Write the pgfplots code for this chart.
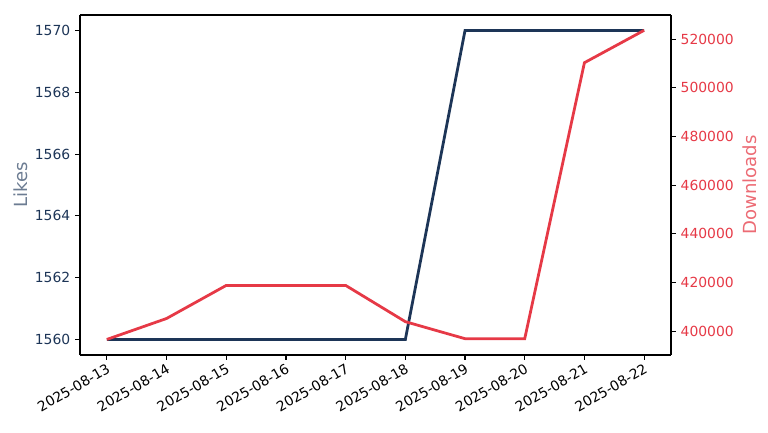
\documentclass[border=0pt]{standalone}
\usepackage{pgfplots}
\pgfplotsset{compat=1.18}
\usepackage{fontspec}
\setmainfont{DejaVu Sans}
\definecolor{navy}{HTML}{1D3557}
\definecolor{redc}{HTML}{E63946}
\pgfplotstableread{
x likes downloads
0 1560 396600
1 1560 405200
2 1560 418800
3 1560 418800
4 1560 418800
5 1560 403900
6 1570 396900
7 1570 396900
8 1570 510300
9 1570 523600
}\data
\begin{document}
\begin{tikzpicture}
\pgfplotsset{
  base/.style={
    scale only axis, width=425.5pt, height=244.8pt,
    at={(0,0)}, anchor=south west,
    xmin=-0.45, xmax=9.45,
    tick align=outside, major tick length=3.5pt,
    every tick/.style={black, line width=0.8pt},
    axis line style={line width=0.8pt},
    /pgf/number format/assume math mode=true,
    /pgf/number format/1000 sep={},
    tick label style={font=\fontsize{10}{12}\selectfont},
    label style={font=\fontsize{13}{15}\selectfont},
  }
}
\begin{axis}[base,
  axis y line*=left, axis x line*=bottom,
  ymin=1559.5, ymax=1570.5,
  ytick={1560,1562,...,1570},
  yticklabel style={text=navy},
  xtick={0,...,9},
  xticklabels={2025-08-13,2025-08-14,2025-08-15,2025-08-16,2025-08-17,2025-08-18,2025-08-19,2025-08-20,2025-08-21,2025-08-22},
  xticklabel style={rotate=30, anchor=north east, inner sep=1.5pt},
  ylabel={Likes},
  ylabel style={at={(axis description cs:-0.101,0.5)}, anchor=center, rotate=0, text=navy!65!white},
]
\addplot[navy, line width=2pt, mark=none] table[x=x, y=likes] {\data};
\end{axis}
\begin{axis}[base,
  axis y line*=right, axis x line*=top,
  xtick=\empty,
  ymin=390200, ymax=529900,
  ytick={400000,420000,...,520000},
  scaled y ticks=false,
  yticklabel style={text=redc, /pgf/number format/.cd, fixed, 1000 sep={}},
  ylabel={Downloads},
  ylabel style={at={(axis description cs:1.134,0.5)}, anchor=center, rotate=0, text=redc!75!white},
]
\addplot[redc, line width=2pt, mark=none] table[x=x, y=downloads] {\data};
\end{axis}
\pgfresetboundingbox
\useasboundingbox (-57.6pt,-55.44pt) rectangle (495.36pt,255.6pt);
\end{tikzpicture}
\end{document}
